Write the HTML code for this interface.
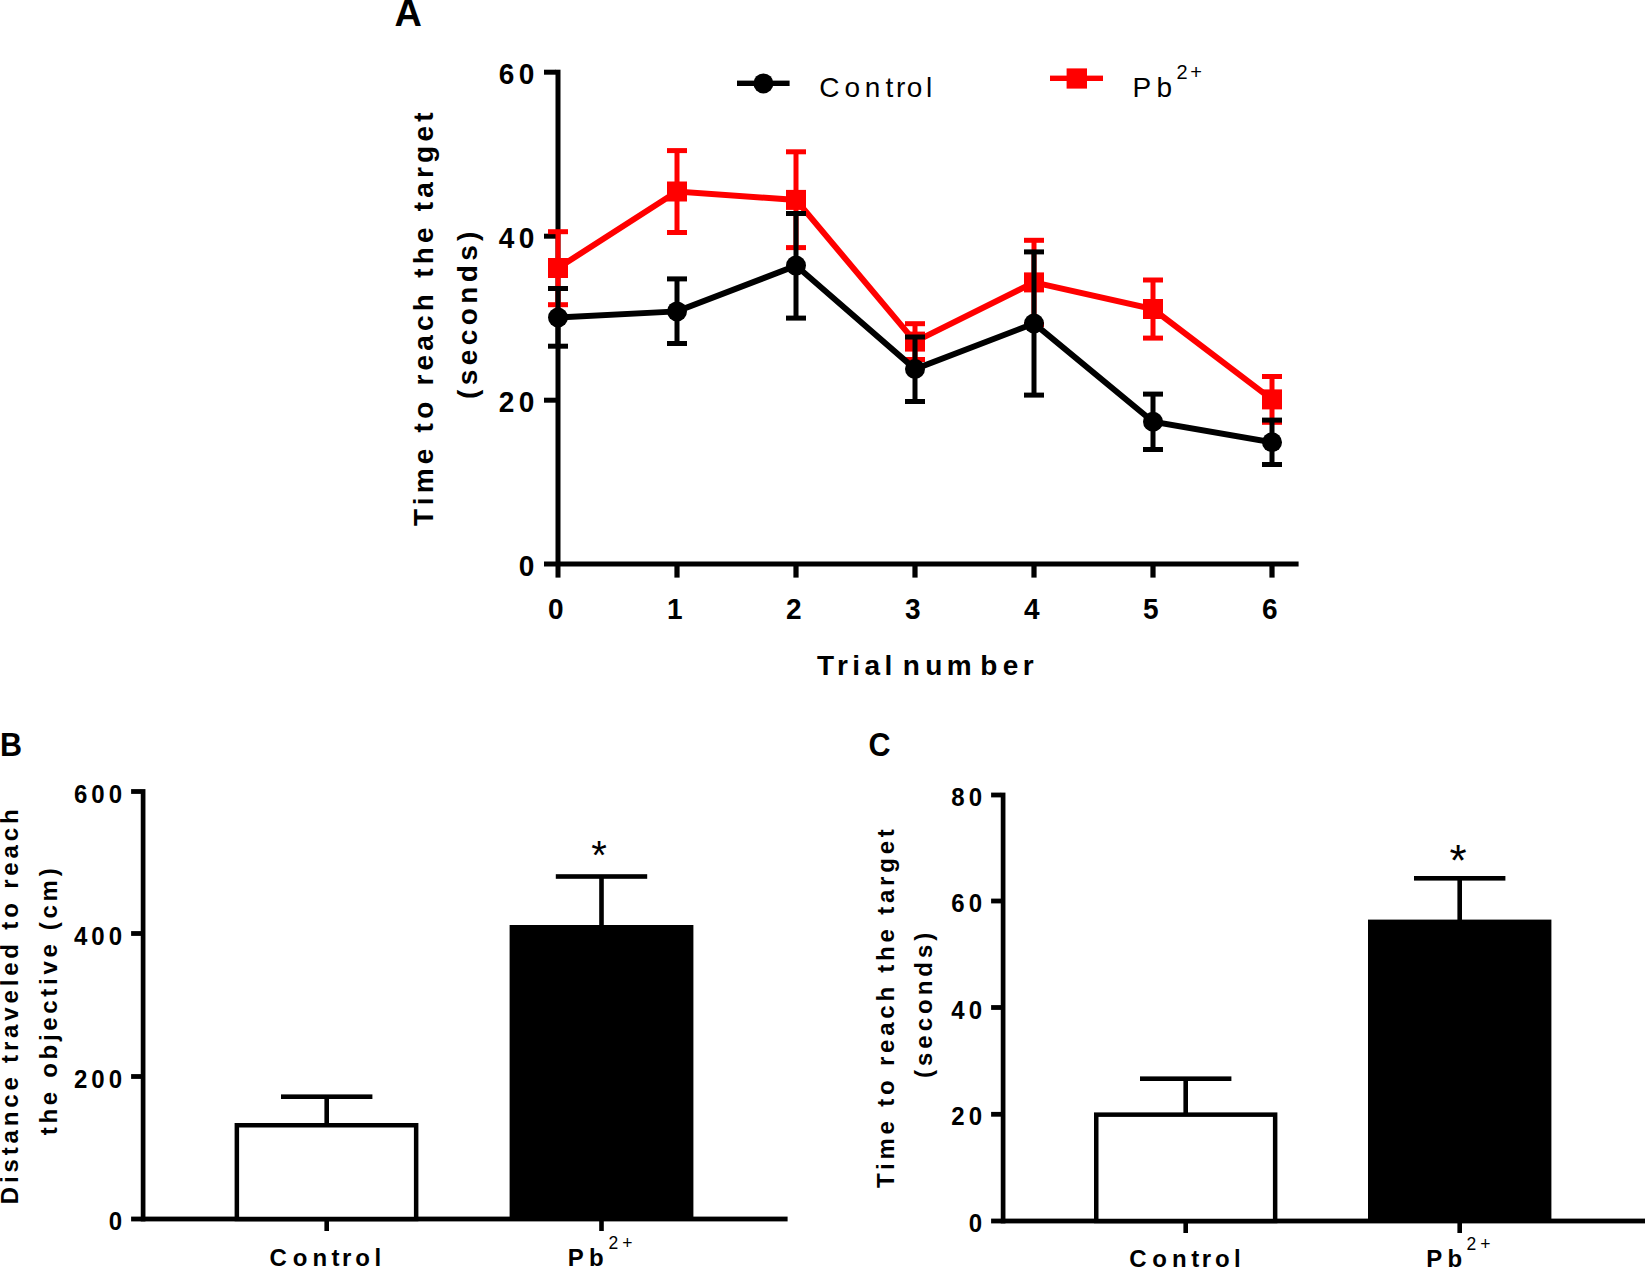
<!DOCTYPE html>
<html><head><meta charset="utf-8"><title>Figure</title>
<style>html,body{margin:0;padding:0;background:#fff;}svg{display:block;}text{font-family:"Liberation Sans",sans-serif;fill:#000;}</style>
</head><body>
<svg width="1645" height="1268" viewBox="0 0 1645 1268" shape-rendering="auto">
<rect width="1645" height="1268" fill="#fff"/>
<g id="panelA">
<text transform="translate(394.4 25.9) scale(1.035 1.04)" font-size="36.6" font-weight="bold" letter-spacing="0" text-anchor="start">A</text>
<rect x="555.5" y="69.7" width="5" height="507.900" fill="#000"/>
<rect x="544" y="561.5" width="754.599" height="5" fill="#000"/>
<rect x="544" y="69.700" width="12" height="5" fill="#000"/>
<rect x="544" y="233.700" width="12" height="5" fill="#000"/>
<rect x="544" y="397.700" width="12" height="5" fill="#000"/>
<rect x="674.4" y="564" width="5.2" height="13.6" fill="#000"/>
<rect x="793.4" y="564" width="5.2" height="13.6" fill="#000"/>
<rect x="912.4" y="564" width="5.2" height="13.6" fill="#000"/>
<rect x="1031.4" y="564" width="5.2" height="13.6" fill="#000"/>
<rect x="1150.4" y="564" width="5.2" height="13.6" fill="#000"/>
<rect x="1269.4" y="564" width="5.2" height="13.6" fill="#000"/>
<text transform="translate(538.6 84.400) scale(1 1.04)" font-size="28" font-weight="bold" letter-spacing="4.4" text-anchor="end">60</text>
<text transform="translate(538.6 248.400) scale(1 1.04)" font-size="28" font-weight="bold" letter-spacing="4.4" text-anchor="end">40</text>
<text transform="translate(538.6 412.400) scale(1 1.04)" font-size="28" font-weight="bold" letter-spacing="4.4" text-anchor="end">20</text>
<text transform="translate(538.6 576.400) scale(1 1.04)" font-size="28" font-weight="bold" letter-spacing="4.4" text-anchor="end">0</text>
<text transform="translate(558 619.3) scale(1 1.04)" font-size="28" font-weight="bold" letter-spacing="4.4" text-anchor="middle">0</text>
<text transform="translate(677 619.3) scale(1 1.04)" font-size="28" font-weight="bold" letter-spacing="4.4" text-anchor="middle">1</text>
<text transform="translate(796 619.3) scale(1 1.04)" font-size="28" font-weight="bold" letter-spacing="4.4" text-anchor="middle">2</text>
<text transform="translate(915 619.3) scale(1 1.04)" font-size="28" font-weight="bold" letter-spacing="4.4" text-anchor="middle">3</text>
<text transform="translate(1034 619.3) scale(1 1.04)" font-size="28" font-weight="bold" letter-spacing="4.4" text-anchor="middle">4</text>
<text transform="translate(1153 619.3) scale(1 1.04)" font-size="28" font-weight="bold" letter-spacing="4.4" text-anchor="middle">5</text>
<text transform="translate(1272 619.3) scale(1 1.04)" font-size="28" font-weight="bold" letter-spacing="4.4" text-anchor="middle">6</text>
<text transform="translate(817 675.4) scale(1 1.0)" font-size="28" font-weight="bold" letter-spacing="4.4" text-anchor="start" dx="0 0 0 0 0 0 -6 1 0 4 1 0">Trial number</text>
<text transform="translate(433.4 526) rotate(-90) scale(1 1.0)" font-size="28" font-weight="bold" letter-spacing="4.2" text-anchor="start">Time to reach the target</text>
<text transform="translate(477 399) rotate(-90) scale(1 1.0)" font-size="28" font-weight="bold" letter-spacing="4.4" text-anchor="start">(seconds)</text>
<rect x="737" y="80.6" width="52.6" height="5.4" fill="#000"/>
<circle cx="763.4" cy="83.4" r="10" fill="#000"/>
<text transform="translate(818.6 97) scale(1 1.0)" font-size="28" font-weight="normal" letter-spacing="4.4" text-anchor="start" dx="0.6 0.6 0.4 0.6 -1.6 -3 -0.6">Control</text>
<rect x="1050" y="75.6" width="53" height="5.4" fill="#ff0000"/>
<rect x="1066.6" y="68.4" width="20.4" height="20.2" fill="#ff0000"/>
<text transform="translate(1132.5 97) scale(1 1.0)" font-size="28" font-weight="normal" letter-spacing="4.4" text-anchor="start" dx="0 0.9">Pb</text>
<text transform="translate(1176.6 79.4) scale(1 1.04)" font-size="20" font-weight="normal" letter-spacing="2.6" text-anchor="start">2+</text>
<polyline points="558,268 677,191.5 796,199.9 915,341.6 1034,282.4 1153,309 1272,399.4" fill="none" stroke="#ff0000" stroke-width="6" stroke-linejoin="miter"/>
<rect x="555.5" y="231.7" width="5" height="73.0" fill="#ff0000"/>
<rect x="548" y="229.2" width="20" height="5" fill="#ff0000"/>
<rect x="548" y="302.2" width="20" height="5" fill="#ff0000"/>
<rect x="548" y="258" width="20" height="20" fill="#ff0000"/>
<rect x="674.5" y="150.6" width="5" height="81.9" fill="#ff0000"/>
<rect x="667" y="148.1" width="20" height="5" fill="#ff0000"/>
<rect x="667" y="230.0" width="20" height="5" fill="#ff0000"/>
<rect x="667" y="181.5" width="20" height="20" fill="#ff0000"/>
<rect x="793.5" y="151.8" width="5" height="95.799" fill="#ff0000"/>
<rect x="786" y="149.3" width="20" height="5" fill="#ff0000"/>
<rect x="786" y="245.1" width="20" height="5" fill="#ff0000"/>
<rect x="786" y="189.9" width="20" height="20" fill="#ff0000"/>
<rect x="912.5" y="323.7" width="5" height="35.800" fill="#ff0000"/>
<rect x="905" y="321.2" width="20" height="5" fill="#ff0000"/>
<rect x="905" y="357.0" width="20" height="5" fill="#ff0000"/>
<rect x="905" y="331.6" width="20" height="20" fill="#ff0000"/>
<rect x="1031.5" y="240.3" width="5" height="84.199" fill="#ff0000"/>
<rect x="1024" y="237.8" width="20" height="5" fill="#ff0000"/>
<rect x="1024" y="322.0" width="20" height="5" fill="#ff0000"/>
<rect x="1024" y="272.4" width="20" height="20" fill="#ff0000"/>
<rect x="1150.5" y="280" width="5" height="58.100" fill="#ff0000"/>
<rect x="1143" y="277.5" width="20" height="5" fill="#ff0000"/>
<rect x="1143" y="335.6" width="20" height="5" fill="#ff0000"/>
<rect x="1143" y="299" width="20" height="20" fill="#ff0000"/>
<rect x="1269.5" y="376.5" width="5" height="45.800" fill="#ff0000"/>
<rect x="1262" y="374.0" width="20" height="5" fill="#ff0000"/>
<rect x="1262" y="419.8" width="20" height="5" fill="#ff0000"/>
<rect x="1262" y="389.4" width="20" height="20" fill="#ff0000"/>
<polyline points="558,317.5 677,311.4 796,265.6 915,369 1034,323.5 1153,421.8 1272,442.3" fill="none" stroke="#000" stroke-width="6" stroke-linejoin="miter"/>
<rect x="555.5" y="288.5" width="5" height="57.699" fill="#000"/>
<rect x="548" y="286.0" width="20" height="5" fill="#000"/>
<rect x="548" y="343.7" width="20" height="5" fill="#000"/>
<circle cx="558" cy="317.5" r="10" fill="#000"/>
<rect x="674.5" y="278.9" width="5" height="64.600" fill="#000"/>
<rect x="667" y="276.4" width="20" height="5" fill="#000"/>
<rect x="667" y="341.0" width="20" height="5" fill="#000"/>
<circle cx="677" cy="311.4" r="10" fill="#000"/>
<rect x="793.5" y="213.5" width="5" height="104.600" fill="#000"/>
<rect x="786" y="211.0" width="20" height="5" fill="#000"/>
<rect x="786" y="315.6" width="20" height="5" fill="#000"/>
<circle cx="796" cy="265.6" r="10" fill="#000"/>
<rect x="912.5" y="337" width="5" height="64.5" fill="#000"/>
<rect x="905" y="334.5" width="20" height="5" fill="#000"/>
<rect x="905" y="399.0" width="20" height="5" fill="#000"/>
<circle cx="915" cy="369" r="10" fill="#000"/>
<rect x="1031.5" y="251.9" width="5" height="143.200" fill="#000"/>
<rect x="1024" y="249.4" width="20" height="5" fill="#000"/>
<rect x="1024" y="392.6" width="20" height="5" fill="#000"/>
<circle cx="1034" cy="323.5" r="10" fill="#000"/>
<rect x="1150.5" y="394.1" width="5" height="55.399" fill="#000"/>
<rect x="1143" y="391.6" width="20" height="5" fill="#000"/>
<rect x="1143" y="447.0" width="20" height="5" fill="#000"/>
<circle cx="1153" cy="421.8" r="10" fill="#000"/>
<rect x="1269.5" y="420.1" width="5" height="44.399" fill="#000"/>
<rect x="1262" y="417.6" width="20" height="5" fill="#000"/>
<rect x="1262" y="462.0" width="20" height="5" fill="#000"/>
<circle cx="1272" cy="442.3" r="10" fill="#000"/>
</g>
<g id="panelB">
<text transform="translate(0.0 756) scale(1 1.065)" font-size="30.5" font-weight="bold" letter-spacing="0" text-anchor="start">B</text>
<rect x="140.75" y="789.1" width="4.7" height="432.300" fill="#000"/>
<rect x="131.1" y="1216.6" width="656.5" height="4.8" fill="#000"/>
<rect x="131.1" y="789.1" width="10" height="4.8" fill="#000"/>
<rect x="131.1" y="931.1" width="10" height="4.8" fill="#000"/>
<rect x="131.1" y="1074.1" width="10" height="4.8" fill="#000"/>
<text transform="translate(126 802.6) scale(1 1.04)" font-size="24" font-weight="bold" letter-spacing="4" text-anchor="end">600</text>
<text transform="translate(126 944.6) scale(1 1.04)" font-size="24" font-weight="bold" letter-spacing="4" text-anchor="end">400</text>
<text transform="translate(126 1087.6) scale(1 1.04)" font-size="24" font-weight="bold" letter-spacing="4" text-anchor="end">200</text>
<text transform="translate(126 1230.1) scale(1 1.04)" font-size="24" font-weight="bold" letter-spacing="4" text-anchor="end">0</text>
<rect x="236.85" y="1125.25" width="179.299" height="93.75" fill="#fff" stroke="#000" stroke-width="4.5"/>
<rect x="509.6" y="925" width="183.799" height="294" fill="#000"/>
<rect x="324.4" y="1096.7" width="4.6" height="27.299" fill="#000"/>
<rect x="281.0" y="1094.4" width="91.4" height="4.6" fill="#000"/>
<rect x="324.4" y="1219" width="4.6" height="12" fill="#000"/>
<rect x="599.2" y="876.5" width="4.6" height="49.5" fill="#000"/>
<rect x="555.8" y="874.2" width="91.4" height="4.6" fill="#000"/>
<rect x="599.2" y="1219" width="4.6" height="12" fill="#000"/>
<text transform="translate(599.1 868.5) scale(1 1)" font-size="40" font-weight="normal" letter-spacing="0" text-anchor="middle">*</text>
<text transform="translate(268.8 1265.5) scale(1 1.0)" font-size="24" font-weight="bold" letter-spacing="4.5" text-anchor="start" dx="0.8 1.3 0.5 0 -2 -0.6 0">Control</text>
<text transform="translate(567.8 1265.5) scale(1 1.0)" font-size="24" font-weight="bold" letter-spacing="4.5" text-anchor="start" dx="0 0.7">Pb</text>
<text transform="translate(608.4 1249.0) scale(1 1.04)" font-size="17.5" font-weight="normal" letter-spacing="4.2" text-anchor="start">2+</text>
<text transform="translate(18 1204.2) rotate(-90) scale(1 1.0)" font-size="24" font-weight="bold" letter-spacing="3.84" text-anchor="start">Distance traveled to reach</text>
<text transform="translate(56.8 1135.3) rotate(-90) scale(1 1.0)" font-size="24" font-weight="bold" letter-spacing="3.7" text-anchor="start">the objective (cm)</text>
</g>
<g id="panelC">
<text transform="translate(868.5 756) scale(1 1.065)" font-size="30.5" font-weight="bold" letter-spacing="0" text-anchor="start">C</text>
<rect x="1000.75" y="792.6" width="4.7" height="430.800" fill="#000"/>
<rect x="991.1" y="1218.6" width="653.9" height="4.8" fill="#000"/>
<rect x="991.1" y="792.6" width="10" height="4.8" fill="#000"/>
<rect x="991.1" y="898.6" width="10" height="4.8" fill="#000"/>
<rect x="991.1" y="1005.1" width="10" height="4.8" fill="#000"/>
<rect x="991.1" y="1111.899" width="10" height="4.8" fill="#000"/>
<text transform="translate(986 806.1) scale(1 1.04)" font-size="24" font-weight="bold" letter-spacing="4" text-anchor="end">80</text>
<text transform="translate(986 912.1) scale(1 1.04)" font-size="24" font-weight="bold" letter-spacing="4" text-anchor="end">60</text>
<text transform="translate(986 1018.6) scale(1 1.04)" font-size="24" font-weight="bold" letter-spacing="4" text-anchor="end">40</text>
<text transform="translate(986 1125.399) scale(1 1.04)" font-size="24" font-weight="bold" letter-spacing="4" text-anchor="end">20</text>
<text transform="translate(986 1232.1) scale(1 1.04)" font-size="24" font-weight="bold" letter-spacing="4" text-anchor="end">0</text>
<rect x="1096.25" y="1114.65" width="178.900" height="106.349" fill="#fff" stroke="#000" stroke-width="4.5"/>
<rect x="1368" y="919.6" width="183.400" height="301.4" fill="#000"/>
<rect x="1183.4" y="1078.7" width="4.6" height="35.299" fill="#000"/>
<rect x="1140.0" y="1076.4" width="91.4" height="4.6" fill="#000"/>
<rect x="1183.4" y="1221" width="4.6" height="12" fill="#000"/>
<rect x="1457.4" y="878.3" width="4.6" height="42.700" fill="#000"/>
<rect x="1414.0" y="876.0" width="91.4" height="4.6" fill="#000"/>
<rect x="1457.4" y="1221" width="4.6" height="12" fill="#000"/>
<text transform="translate(1458 876.2) scale(1 1)" font-size="44" font-weight="normal" letter-spacing="0" text-anchor="middle">*</text>
<text transform="translate(1128.4 1267.2) scale(1 1.0)" font-size="24" font-weight="bold" letter-spacing="4.5" text-anchor="start" dx="0.8 1.3 0.5 0 -2 -0.6 0">Control</text>
<text transform="translate(1426.2 1267.2) scale(1 1.0)" font-size="24" font-weight="bold" letter-spacing="4.5" text-anchor="start" dx="0 0.7">Pb</text>
<text transform="translate(1466.4 1250.2) scale(1 1.04)" font-size="17.5" font-weight="normal" letter-spacing="4.2" text-anchor="start">2+</text>
<text transform="translate(894.4 1188) rotate(-90) scale(1 1.0)" font-size="24" font-weight="bold" letter-spacing="3.79" text-anchor="start">Time to reach the target</text>
<text transform="translate(932 1078) rotate(-90) scale(1 1.0)" font-size="24" font-weight="bold" letter-spacing="4" text-anchor="start">(seconds)</text>
</g>
</svg></body></html>
